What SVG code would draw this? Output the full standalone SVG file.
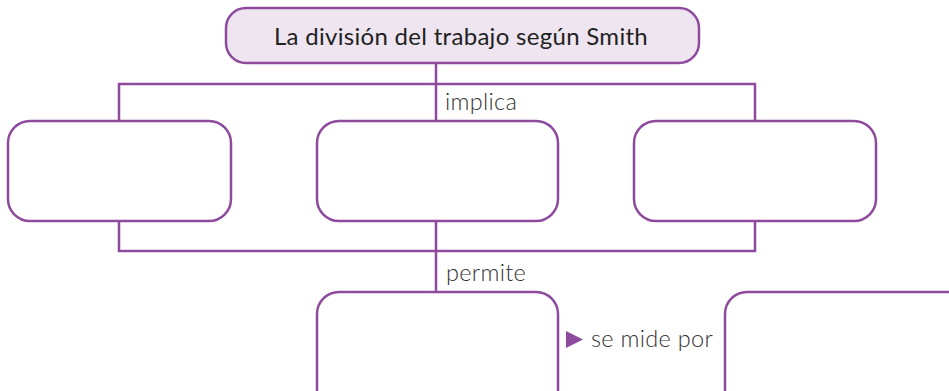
<svg xmlns="http://www.w3.org/2000/svg" width="949" height="391" viewBox="0 0 949 391">
<style>
.box{fill:#fff;stroke:#8e4b9e;stroke-width:2.5}
.title{fill:#eee5f1;stroke:#8e4b9e;stroke-width:2.5}
.line{fill:none;stroke:#8e4b9e;stroke-width:2.5}
.lbl{font-family:Lato,"Open Sans",sans-serif;font-weight:300;font-size:23.5px;fill:#333;letter-spacing:0.3px}
.ttl{font-family:Lato,"Open Sans",sans-serif;font-size:24px;fill:#222;letter-spacing:0.3px}
</style>
<g id="connectors">
<path class="line" d="M436 63V121M119 121V84H755V121"/>
<path class="line" d="M119 221V251H755V221M436 221V292"/>
<polygon points="566,331 583,339.5 566,348" fill="#8e4b9e"/>
<text class="lbl" x="445" y="110">implica</text>
<text class="lbl" x="446" y="281">permite</text>
<text class="lbl" x="591" y="347">se mide por</text>
</g>
<g id="title"><rect class="title" x="226" y="8" width="473" height="55" rx="20"/><text class="ttl" x="461" y="45" text-anchor="middle">La división del trabajo según Smith</text></g>
<g id="box1"><rect class="box" x="8" y="121" width="223" height="100" rx="22"/></g>
<g id="box2"><rect class="box" x="317" y="121" width="241" height="100" rx="22"/></g>
<g id="box3"><rect class="box" x="634" y="121" width="242" height="100" rx="22"/></g>
<g id="box4"><rect class="box" x="317" y="292" width="241" height="120" rx="22"/></g>
<g id="box5"><rect class="box" x="725" y="292" width="250" height="120" rx="22"/></g>
</svg>
